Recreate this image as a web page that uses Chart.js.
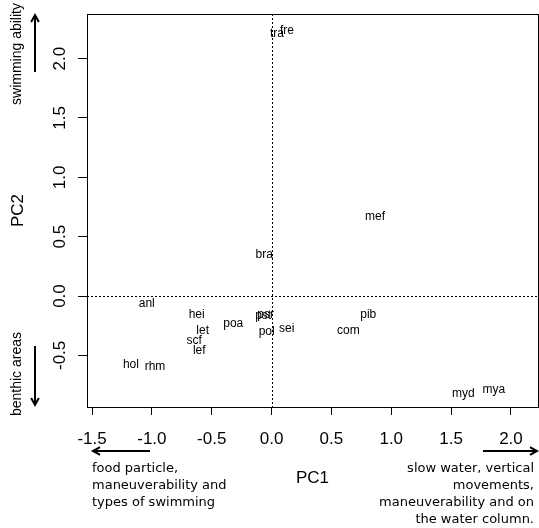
<!DOCTYPE html>
<html>
<head>
<meta charset="utf-8">
<script src="https://cdn.jsdelivr.net/npm/chart.js@4.4.0/dist/chart.umd.min.js"></script>
<style>
  body { margin: 0; background: #fff; }
  #wrap { width: 539px; height: 528px; }
</style>
</head>
<body>
<div id="wrap"><canvas id="pca" width="539" height="528"></canvas></div>
<script>
/* --------------- Species codes --------------------- */
const species = ["tra", "fre", "mef", "bra", "anl", "hei", "let", "poa", "pst", "psr",
  "pol", "sei", "com", "pib", "scf", "lef", "hol", "rhm", "myd", "mya"];
/* --------------- PC1 / PC2 scores --------------------- */
const pc1 = [0.045, 0.129, 0.865, -0.061, -1.043, -0.626, -0.576, -0.32, -0.07, -0.05,
  -0.041, 0.126, 0.641, 0.808, -0.646, -0.604, -1.175, -0.974, 1.602, 1.858];
const pc2 = [2.211, 2.237, 0.668, 0.345, -0.067, -0.154, -0.292, -0.236, -0.165, -0.155,
  -0.30, -0.275, -0.295, -0.154, -0.379, -0.457, -0.575, -0.598, -0.826, -0.792];
/* --------------- Tick labels --------------------- */
const xTicks = [-1.5, -1.0, -0.5, 0.0, 0.5, 1.0, 1.5, 2.0];
const yTicks = [-0.5, 0.0, 0.5, 1.0, 1.5, 2.0];
const leftNote = ["food particle,", "maneuverability and", "types of swimming"];
const rightNote = ["slow water, vertical", "movements,", "maneuverability and on", "the water column."];

const points = species.map((s, i) => ({ x: pc1[i], y: pc2[i] }));

function arrow(ctx, x1, y1, x2, y2) {
  const a = Math.atan2(y2 - y1, x2 - x1);
  const h = 8;
  ctx.beginPath();
  ctx.moveTo(x1, y1);
  ctx.lineTo(x2, y2);
  ctx.moveTo(x2 - h * Math.cos(a - 0.5), y2 - h * Math.sin(a - 0.5));
  ctx.lineTo(x2, y2);
  ctx.lineTo(x2 - h * Math.cos(a + 0.5), y2 - h * Math.sin(a + 0.5));
  ctx.stroke();
}

/* --------------- Box, zero lines, labels, notes --------------------- */
const decor = {
  id: "decor",
  beforeDatasetsDraw(chart) {
    const { ctx, chartArea: a, scales: { x, y } } = chart;
    ctx.save();
    ctx.strokeStyle = "#000";
    ctx.lineWidth = 1;
    ctx.setLineDash([2, 2]);
    ctx.beginPath();
    const x0 = Math.round(x.getPixelForValue(0)) + 0.5;
    const y0 = Math.round(y.getPixelForValue(0)) + 0.5;
    ctx.moveTo(x0, a.top);
    ctx.lineTo(x0, a.bottom);
    ctx.moveTo(a.left, y0);
    ctx.lineTo(a.right, y0);
    ctx.stroke();
    ctx.setLineDash([]);
    ctx.strokeRect(a.left + 0.5, a.top + 0.5, a.right - a.left, a.bottom - a.top);
    ctx.restore();
  },
  afterDatasetsDraw(chart) {
    const { ctx, chartArea: a, scales: { y } } = chart;
    const meta = chart.getDatasetMeta(0);
    ctx.save();
    ctx.fillStyle = "#000";
    ctx.textAlign = "center";
    ctx.textBaseline = "middle";
    ctx.font = "12px 'Liberation Sans', Arial, sans-serif";
    meta.data.forEach((pt, i) => ctx.fillText(species[i], pt.x, pt.y));

    // y tick labels, rotated like R
    ctx.font = "17px 'Liberation Sans', Arial, sans-serif";
    yTicks.forEach(v => {
      ctx.save();
      ctx.translate(60, y.getPixelForValue(v));
      ctx.rotate(-Math.PI / 2);
      ctx.fillText(v.toFixed(1), 0, 0);
      ctx.restore();
    });

    // axis titles
    ctx.fillText("PC1", (a.left + a.right) / 2, 478);
    ctx.save();
    ctx.translate(18, (a.top + a.bottom) / 2);
    ctx.rotate(-Math.PI / 2);
    ctx.fillText("PC2", 0, 0);
    ctx.restore();

    // vertical notes
    ctx.font = "14px 'Liberation Sans', Arial, sans-serif";
    ctx.save();
    ctx.translate(17, 54);
    ctx.rotate(-Math.PI / 2);
    ctx.fillText("swimming ability", 0, 0);
    ctx.restore();
    ctx.save();
    ctx.translate(17, 374);
    ctx.rotate(-Math.PI / 2);
    ctx.fillText("benthic areas", 0, 0);
    ctx.restore();

    // horizontal notes
    ctx.font = "13px 'DejaVu Sans', Verdana, sans-serif";
    ctx.textAlign = "left";
    leftNote.forEach((t, i) => ctx.fillText(t, 92, 469 + i * 17));
    ctx.textAlign = "right";
    rightNote.forEach((t, i) => ctx.fillText(t, 534, 469 + i * 17));

    // arrows
    ctx.lineWidth = 2;
    ctx.strokeStyle = "#000";
    arrow(ctx, 35, 72, 35, 15);
    arrow(ctx, 35, 346, 35, 405);
    arrow(ctx, 150, 451, 93, 451);
    arrow(ctx, 483, 451, 537, 451);
    ctx.restore();
  }
};

new Chart(document.getElementById("pca"), {
  type: "scatter",
  plugins: [decor],
  data: {
    datasets: [{ data: points, pointRadius: 0, pointHoverRadius: 0 }]
  },
  options: {
    responsive: false,
    animation: false,
    layout: { padding: { left: 0, right: 1, top: 14, bottom: 0 } },
    plugins: { legend: { display: false }, tooltip: { enabled: false } },
    scales: {
      x: {
        min: -1.542,
        max: 2.226,
        afterBuildTicks: (s) => { s.ticks = xTicks.map(v => ({ value: v })); },
        afterFit: (s) => { s.height = 121; },
        border: { display: false },
        grid: { drawOnChartArea: false, drawTicks: true, tickLength: 8, color: "#000" },
        ticks: {
          maxRotation: 0,
          padding: 14,
          color: "#000",
          font: { family: "'Liberation Sans', Arial, sans-serif", size: 17 },
          callback: (v) => v.toFixed(1)
        }
      },
      y: {
        min: -0.935,
        max: 2.376,
        afterBuildTicks: (s) => { s.ticks = yTicks.map(v => ({ value: v })); },
        afterFit: (s) => { s.width = 87; },
        border: { display: false },
        grid: { drawOnChartArea: false, drawTicks: true, tickLength: 9, color: "#000" },
        ticks: { display: false }
      }
    }
  }
});
</script>
</body>
</html>
